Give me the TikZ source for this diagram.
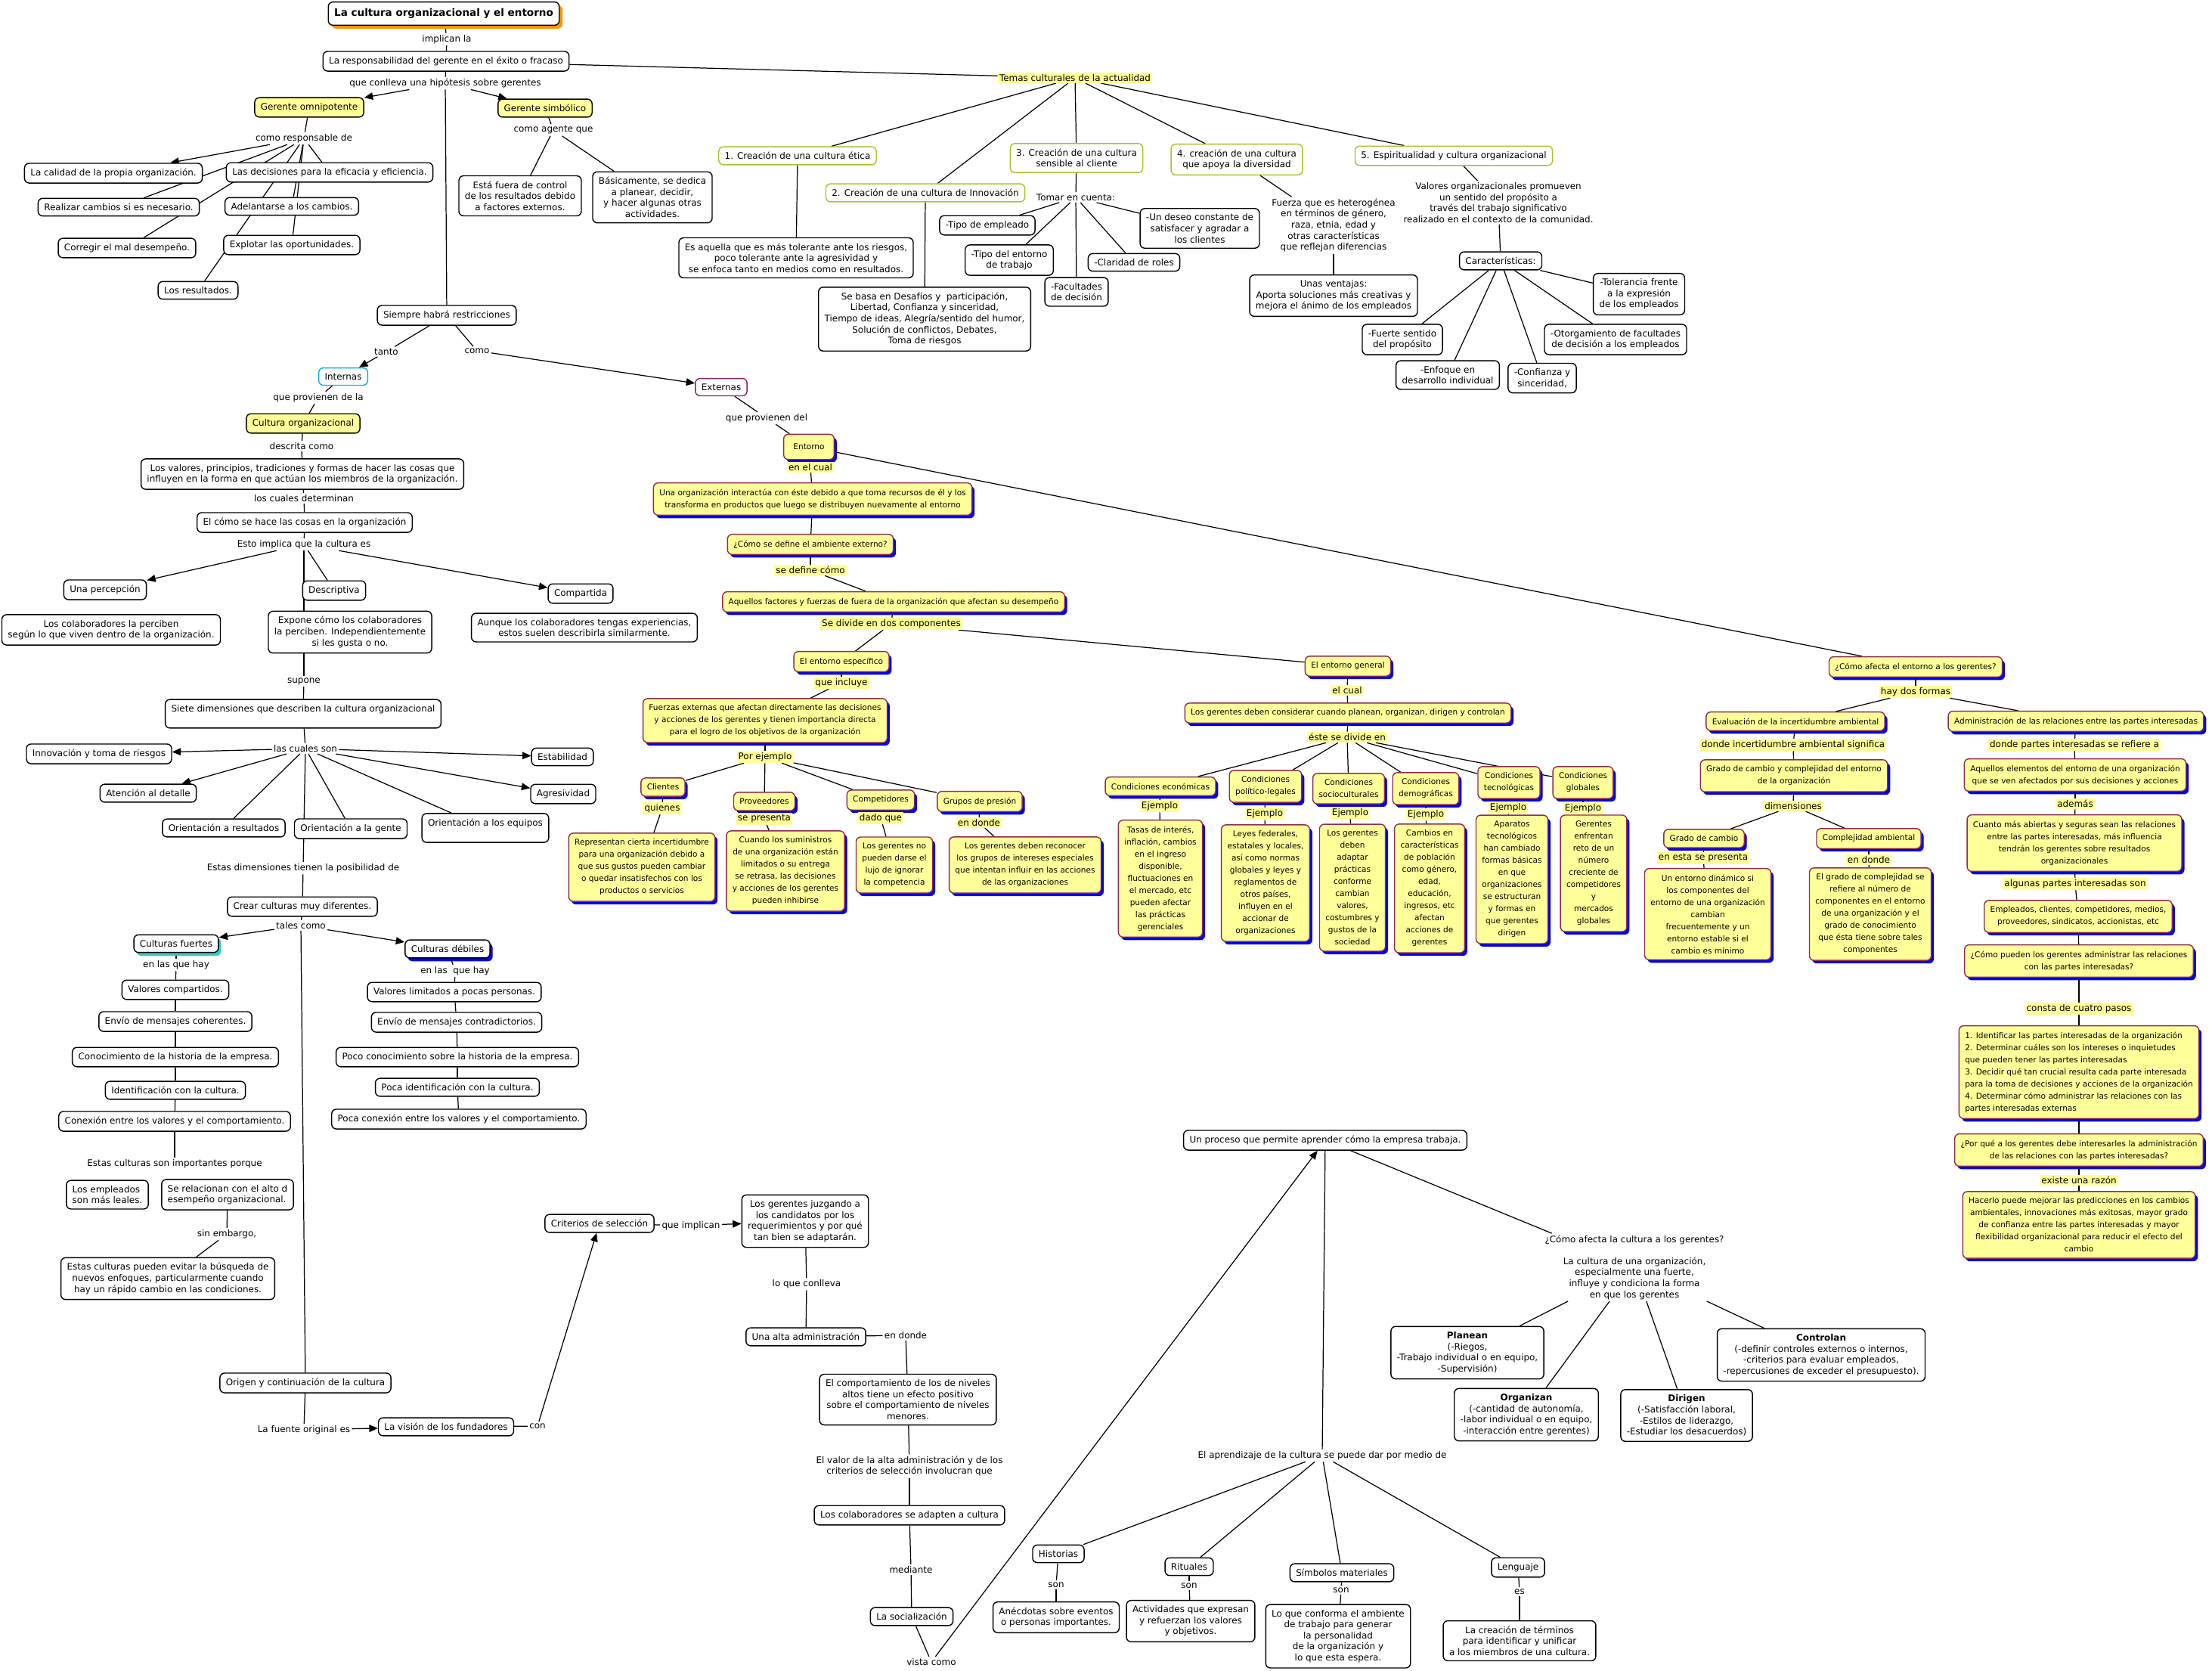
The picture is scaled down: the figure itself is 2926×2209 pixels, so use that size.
\documentclass[tikz,border=0pt]{standalone}
\usepackage{fontspec}
\setmainfont{DejaVu Sans}
\usepackage{tikz}
\usetikzlibrary{arrows.meta,shadows}
\definecolor{cmyellow}{RGB}{255,255,153}
\definecolor{cmlabel}{RGB}{255,255,150}
\definecolor{cmborder}{RGB}{140,45,80}
\definecolor{cmblue}{RGB}{0,0,235}
\definecolor{cmgreen}{RGB}{165,195,45}
\definecolor{cmcyan}{RGB}{0,180,230}
\definecolor{cmpurple}{RGB}{140,30,100}
\definecolor{cmorange}{RGB}{255,150,0}
\definecolor{cmteal}{RGB}{50,200,200}
\pgfdeclarelayer{background}
\pgfsetlayers{background,main}

\begin{document}
\begin{tikzpicture}[x=0.02cm, y=-0.02cm,
  box/.style={draw=black, line width=0.8pt, rounded corners=3.5pt, fill=white, align=center,
              inner xsep=4.5pt, inner ysep=4pt, font=\fontsize{6.8}{8.3}\selectfont},
  ybox/.style={box, fill=cmyellow, draw=cmborder, inner ysep=4.6pt, font=\fontsize{6}{9.1}\selectfont,
               drop shadow={shadow xshift=2pt, shadow yshift=-2.3pt, fill=cmblue, opacity=1}},
  ypl/.style={box, fill=cmyellow},
  gbox/.style={box, draw=cmgreen},
  titlebox/.style={box, font=\fontsize{7.7}{9.5}\selectfont\bfseries, inner ysep=5pt,
                   drop shadow={shadow xshift=2.5pt, shadow yshift=-2.5pt, fill=cmorange, opacity=1}},
  lbl/.style={inner sep=1.2pt, align=center, font=\fontsize{6.8}{8.3}\selectfont},
  ylbl/.style={lbl, fill=cmlabel},
  link/.style={line width=0.7pt},
  arr/.style={link, -{Triangle[length=6.5pt,width=5.5pt]}}]
\useasboundingbox (0,0) rectangle (2926,2209);

% gerente
\node[titlebox] (title) at (587,18) {La cultura organizacional y el entorno};
\node[lbl] (l_implican) at (591,52) {implican la};
\node[box] (resp) at (590,81) {La responsabilidad del gerente en el éxito o fracaso};
\node[lbl] (l_conlleva) at (589,110) {que conlleva una hipótesis sobre gerentes};
\node[ypl] (omni) at (409,142) {Gerente omnipotente};
\node[ypl] (simb) at (721,143) {Gerente simbólico};
\node[lbl] (l_resp) at (402,183) {como responsable de};
\node[box] (calidad) at (150,229) {La calidad de la propia organización.};
\node[box] (decis) at (436,228) {Las decisiones para la eficacia y eficiencia.};
\node[box] (realizar) at (157,274) {Realizar cambios si es necesario.};
\node[box] (adelant) at (386,273) {Adelantarse a los cambios.};
\node[box] (corregir) at (168,328) {Corregir el mal desempeño.};
\node[box] (explotar) at (386,324) {Explotar las oportunidades.};
\node[box] (result) at (262,384) {Los resultados.};
\node[lbl] (l_agente) at (732,172) {como agente que};
\node[box] (fuera) at (688,259) {Está fuera de control\\de los resultados debido\\a factores externos.};
\node[box] (basic) at (863,261) {Básicamente, se dedica\\a planear, decidir,\\y hacer algunas otras\\actividades.};
\node[box] (siempre) at (591,417) {Siempre habrá restricciones};
\node[lbl] (l_tanto) at (511,465) {tanto};
\node[lbl] (l_como) at (631,464) {como};
\node[box, draw=cmcyan] (internas) at (454,498) {Internas};
\node[box, draw=cmpurple] (externas) at (954,512) {Externas};

% cultura organizacional
\node[lbl] (l_provla) at (421,526) {que provienen de la};
\node[ypl] (culturaorg) at (401,560) {Cultura organizacional};
\node[lbl] (l_descrita) at (399,590) {descrita como};
\node[box] (valores) at (400,627) {Los valores, principios, tradiciones y formas de hacer las cosas que\\influyen en la forma en que actúan los miembros de la organización.};
\node[lbl] (l_determ) at (402,659) {los cuales determinan};
\node[box] (como) at (403,691) {El cómo se hace las cosas en la organización};
\node[lbl] (l_esto) at (402,720) {Esto implica que la cultura es};
\node[box] (percep) at (139,780) {Una percepción};
\node[box] (descrip) at (442,781) {Descriptiva};
\node[box] (compart) at (768,785) {Compartida};
\node[box] (perciben) at (147,833) {Los colaboradores la perciben\\según lo que viven dentro de la organización.};
\node[box] (expone) at (463,836) {Expone cómo los colaboradores\\la perciben. Independientemente\\si les gusta o no.};
\node[box] (aunque) at (773,830) {Aunque los colaboradores tengas experiencias,\\estos suelen describirla similarmente.};
\node[lbl] (l_supone) at (402,901) {supone};
\node[box] (siete) at (401,944) {Siete dimensiones que describen la cultura organizacional\\\mbox{}};
\node[lbl] (l_cuales) at (404,990) {las cuales son};
\node[box] (innov) at (131,997) {Innovación y toma de riesgos};
\node[box] (atencion) at (196,1049) {Atención al detalle};
\node[box] (oresult) at (296,1095) {Orientación a resultados};
\node[box] (ogente) at (464,1096) {Orientación a la gente};
\node[box] (oequipos) at (642,1095) {Orientación a los equipos\\\mbox{}};
\node[box] (agres) at (745,1050) {Agresividad};
\node[box] (estab) at (744,1001) {Estabilidad};
\node[lbl] (l_estasdim) at (401,1148) {Estas dimensiones tienen la posibilidad de};
\node[box] (crear) at (400,1199) {Crear culturas muy diferentes.};
\node[lbl] (l_tales) at (398,1224) {tales como};
\node[box, drop shadow={shadow xshift=2pt, shadow yshift=-2.5pt, fill=cmteal, opacity=1}] (fuertes) at (233,1248) {Culturas fuertes};
\node[box, drop shadow={shadow xshift=2pt, shadow yshift=-2.5pt, fill=cmblue, opacity=1}] (debiles) at (592,1255) {Culturas débiles};
\node[lbl] (l_enlasf) at (233,1276) {en las que hay};
\node[box] (f1) at (232,1309) {Valores compartidos.};
\node[box] (f2) at (232,1351) {Envío de mensajes coherentes.};
\node[box] (f3) at (232,1398) {Conocimiento de la historia de la empresa.};
\node[box] (f4) at (232,1442) {Identificación con la cultura.};
\node[box] (f5) at (231,1483) {Conexión entre los valores y el comportamiento.};
\node[lbl] (l_enlasd) at (602,1284) {en las\ \ que hay};
\node[box] (d1) at (601,1312) {Valores limitados a pocas personas.};
\node[box] (d2) at (604,1352) {Envío de mensajes contradictorios.};
\node[box] (d3) at (605,1398) {Poco conocimiento sobre la historia de la empresa.};
\node[box] (d4) at (605,1438) {Poca identificación con la cultura.};
\node[box] (d5) at (607,1480) {Poca conexión entre los valores y el comportamiento.};
\node[lbl] (l_import) at (231,1539) {Estas culturas son importantes porque};
\node[box, align=left] (leales) at (142,1580) {Los empleados\\son más leales.};
\node[box, align=left] (relac) at (301,1580) {Se relacionan con el alto d\\esempeño organizacional.};
\node[lbl] (l_sinemb) at (300,1632) {sin embargo,};
\node[box] (evitar) at (222,1691) {Estas culturas pueden evitar la búsqueda de\\nuevos enfoques, particularmente cuando\\hay un rápido cambio en las condiciones.};

% origen y socializacion
\node[box] (origen) at (404,1829) {Origen y continuación de la cultura};
\node[lbl] (l_fuente) at (402,1891) {La fuente original es};
\node[box] (vision) at (590,1887) {La visión de los fundadores};
\node[lbl] (l_con) at (711,1886) {con};
\node[box] (criterios) at (793,1618) {Criterios de selección};
\node[lbl] (l_implican2) at (914,1621) {que implican};
\node[box] (juzgando) at (1065,1615) {Los gerentes juzgando a\\los candidatos por los\\requerimientos y por qué\\tan bien se adaptarán.};
\node[lbl] (l_loque) at (1067,1698) {lo que conlleva};
\node[box] (alta) at (1066,1768) {Una alta administración};
\node[lbl] (l_endonde) at (1198,1766) {en donde};
\node[box] (comport) at (1201,1851) {El comportamiento de los de niveles\\altos tiene un efecto positivo\\sobre el comportamiento de niveles\\menores.};
\node[lbl] (l_valor) at (1203,1939) {El valor de la alta administración y de los\\criterios de selección involucran que};
\node[box] (adapten) at (1203,2004) {Los colaboradores se adapten a cultura};
\node[lbl] (l_mediante) at (1205,2076) {mediante};
\node[box] (social) at (1206,2138) {La socialización};
\node[lbl] (l_vista) at (1232,2198) {vista como};
\node[box] (proceso) at (1753,1508) {Un proceso que permite aprender cómo la empresa trabaja.};
\node[lbl] (l_aprend) at (1749,1925) {El aprendizaje de la cultura se puede dar por medio de};
\node[box] (historias) at (1400,2055) {Historias};
\node[box] (rituales) at (1573,2072) {Rituales};
\node[box] (simbolos) at (1775,2080) {Símbolos materiales};
\node[box] (lenguaje) at (2008,2073) {Lenguaje};
\node[lbl] (l_son1) at (1397,2096) {son};
\node[lbl] (l_son2) at (1573,2097) {son};
\node[lbl] (l_son3) at (1774,2103) {son};
\node[lbl] (l_es) at (2010,2105) {es};
\node[box] (anecdotas) at (1397,2139) {Anécdotas sobre eventos\\o personas importantes.};
\node[box] (activ) at (1575,2144) {Actividades que expresan\\y refuerzan los valores\\y objetivos.};
\node[box] (conforma) at (1770,2164) {Lo que conforma el ambiente\\de trabajo para generar\\la personalidad\\de la organización y\\lo que esta espera.};
\node[box] (creacion) at (2010,2170) {La creación de términos\\para identificar y unificar\\a los miembros de una cultura.};
\node[lbl] (l_afecta) at (2162,1676) {¿Cómo afecta la cultura a los gerentes?\\[8.3pt]La cultura de una organización,\\especialmente una fuerte,\\influye y condiciona la forma\\en que los gerentes};
\node[box] (planean) at (1941,1789) {\textbf{Planean}\\(-Riegos,\\-Trabajo individual o en equipo,\\-Supervisión)};
\node[box] (organizan) at (2019,1871) {\textbf{Organizan}\\(-cantidad de autonomía,\\-labor individual o en equipo,\\-interacción entre gerentes)};
\node[box] (dirigen) at (2231,1872) {\textbf{Dirigen}\\(-Satisfacción laboral,\\-Estilos de liderazgo,\\-Estudiar los desacuerdos)};
\node[box] (controlan) at (2409,1792) {\textbf{Controlan}\\(-definir controles externos o internos,\\-criterios para evaluar empleados,\\-repercusiones de exceder el presupuesto).};

% temas culturales
\node[ylbl] (l_temas) at (1422,103) {Temas culturales de la actualidad};
\node[gbox] (t1) at (1055,206) {1. Creación de una cultura ética};
\node[gbox] (t2) at (1224,255) {2. Creación de una cultura de Innovación};
\node[gbox] (t3) at (1424,209) {3. Creación de una cultura\\sensible al cliente};
\node[gbox] (t4) at (1636,211) {4. creación de una cultura\\que apoya la diversidad};
\node[gbox] (t5) at (1923,206) {5. Espiritualidad y cultura organizacional};
\node[box] (etica) at (1053,341) {Es aquella que es más tolerante ante los riesgos,\\poco tolerante ante la agresividad y\\se enfoca tanto en medios como en resultados.};
\node[box] (innova) at (1223,422) {Se basa en Desafíos y\ \ participación,\\Libertad, Confianza y sinceridad,\\Tiempo de ideas, Alegría/sentido del humor,\\Solución de conflictos, Debates,\\Toma de riesgos};
\node[lbl] (l_tomar) at (1423,261) {Tomar en cuenta:};
\node[box] (tipoemp) at (1306,298) {-Tipo de empleado};
\node[box] (tipoent) at (1335,344) {-Tipo del entorno\\de trabajo};
\node[box] (facult) at (1424,386) {-Facultades\\de decisión};
\node[box] (claridad) at (1500,347) {-Claridad de roles};
\node[box] (deseo) at (1587,302) {-Un deseo constante de\\satisfacer y agradar a\\los clientes};
\node[lbl] (l_fuerza) at (1764,298) {Fuerza que es heterogénea\\en términos de género,\\raza, etnia, edad y\\otras características\\que reflejan diferencias};
\node[box] (ventajas) at (1764,391) {Unas ventajas:\\Aporta soluciones más creativas y\\mejora el ánimo de los empleados};
\node[lbl] (l_valorg) at (1982,268) {Valores organizacionales promueven\\un sentido del propósito a\\través del trabajo significativo\\realizado en el contexto de la comunidad.};
\node[box] (caract) at (1985,345) {Características:};
\node[box] (fuerte) at (1855,449) {-Fuerte sentido\\del propósito};
\node[box] (enfoque) at (1915,496) {-Enfoque en\\desarrollo individual};
\node[box] (confianza) at (2040,500) {-Confianza y\\sinceridad,};
\node[box] (otorga) at (2137,449) {-Otorgamiento de facultades\\de decisión a los empleados};
\node[box] (toler) at (2168,389) {-Tolerancia frente\\a la expresión\\de los empleados};

% entorno
\node[lbl] (l_provdel) at (1014,553) {que provienen del};
\node[ybox, minimum width=38pt, minimum height=19pt] (entorno) at (1070,591) {Entorno};
\node[ylbl] (l_encual) at (1072,618) {en el cual};
\node[ybox] (interact) at (1075,660) {Una organización interactúa con éste debido a que toma recursos de él y los\\transforma en productos que luego se distribuyen nuevamente al entorno};
\node[ybox] (define) at (1072,720) {¿Cómo se define el ambiente externo?};
\node[ylbl] (l_define) at (1072,754) {se define cómo};
\node[ybox] (factores) at (1182,796) {Aquellos factores y fuerzas de fuera de la organización que afectan su desempeño};
\node[ylbl] (l_divide) at (1179,825) {Se divide en dos componentes};
\node[ybox] (especif) at (1113,875) {El entorno específico};
\node[ybox] (general) at (1783,881) {El entorno general};
\node[ylbl] (l_incluye) at (1113,903) {que incluye};
\node[ybox] (fuerzas) at (1012,953) {Fuerzas externas que afectan directamente las decisiones\\y acciones de los gerentes y tienen importancia directa\\para el logro de los objetivos de la organización};
\node[ylbl] (l_ejemplo) at (1012,1001) {Por ejemplo};
\node[ybox] (clientes) at (877,1041) {Clientes};
\node[ybox] (proveed) at (1011,1060) {Proveedores};
\node[ybox] (compet) at (1165,1058) {Competidores};
\node[ybox] (grupos) at (1296,1060) {Grupos de presión};
\node[ylbl] (l_quienes) at (876,1069) {quienes};
\node[ylbl] (l_sepres) at (1011,1083) {se presenta};
\node[ylbl] (l_dado) at (1165,1082) {dado que};
\node[ylbl] (l_endonde2) at (1295,1088) {en donde};
\node[ybox] (repres) at (849,1147) {Representan cierta incertidumbre\\para una organización debido a\\que sus gustos pueden cambiar\\o quedar insatisfechos con los\\productos o servicios};
\node[ybox] (sumin) at (1039,1152) {Cuando los suministros\\de una organización están\\limitados o su entrega\\se retrasa, las decisiones\\y acciones de los gerentes\\pueden inhibirse};
\node[ybox] (nopueden) at (1183,1144) {Los gerentes no\\pueden darse el\\lujo de ignorar\\la competencia};
\node[ybox] (reconocer) at (1356,1144) {Los gerentes deben reconocer\\los grupos de intereses especiales\\que intentan influir en las acciones\\de las organizaciones};
\node[ylbl] (l_elcual) at (1782,913) {el cual};
\node[ybox] (considerar) at (1783,943) {Los gerentes deben considerar cuando planean, organizan, dirigen y controlan};
\node[ylbl] (l_divide2) at (1782,975) {éste se divide en};
\node[ybox] (ceco) at (1535,1040) {Condiciones económicas};
\node[ybox] (cpol) at (1674,1040) {Condiciones\\político-legales};
\node[ybox] (csoc) at (1784,1043) {Condiciones\\socioculturales};
\node[ybox] (cdem) at (1886,1043) {Condiciones\\demográficas};
\node[ybox] (ctec) at (1996,1035) {Condiciones\\tecnológicas};
\node[ybox] (cglo) at (2094,1035) {Condiciones\\globales};
\node[ylbl] (e1) at (1534,1066) {Ejemplo};
\node[ylbl] (e2) at (1673,1076) {Ejemplo};
\node[ylbl] (e3) at (1786,1075) {Ejemplo};
\node[ylbl] (e4) at (1886,1077) {Ejemplo};
\node[ylbl] (e5) at (1995,1068) {Ejemplo};
\node[ylbl] (e6) at (2094,1069) {Ejemplo};
\node[ybox] (x1) at (1535,1162) {Tasas de interés,\\inflación, cambios\\en el ingreso\\disponible,\\fluctuaciones en\\el mercado, etc\\pueden afectar\\las prácticas\\gerenciales};
\node[ybox] (x2) at (1674,1168) {Leyes federales,\\estatales y locales,\\así como normas\\globales y leyes y\\reglamentos de\\otros países,\\influyen en el\\accionar de\\organizaciones};
\node[ybox] (x3) at (1789,1174) {Los gerentes\\deben\\adaptar\\prácticas\\conforme\\cambian\\valores,\\costumbres y\\gustos de la\\sociedad};
\node[ybox] (x4) at (1891,1175) {Cambios en\\características\\de población\\como género,\\edad,\\educación,\\ingresos, etc\\afectan\\acciones de\\gerentes};
\node[ybox] (x5) at (2000,1163) {Aparatos\\tecnológicos\\han cambiado\\formas básicas\\en que\\organizaciones\\se estructuran\\y formas en\\que gerentes\\dirigen};
\node[ybox] (x6) at (2108,1155) {Gerentes\\enfrentan\\reto de un\\número\\creciente de\\competidores\\y\\mercados\\globales};

% como afecta el entorno
\node[ybox] (afectaent) at (2534,882) {¿Cómo afecta el entorno a los gerentes?};
\node[ylbl] (l_dosformas) at (2534,915) {hay dos formas};
\node[ybox] (evalua) at (2375,954) {Evaluación de la incertidumbre ambiental};
\node[ybox] (admin) at (2746,954) {Administración de las relaciones entre las partes interesadas};
\node[ylbl] (l_incert) at (2372,985) {donde incertidumbre ambiental significa};
\node[ybox] (grado) at (2373,1026) {Grado de cambio y complejidad del entorno\\de la organización};
\node[ylbl] (l_dimens) at (2372,1066) {dimensiones};
\node[ybox] (gcambio) at (2254,1109) {Grado de cambio};
\node[ybox] (gcomplej) at (2472,1109) {Complejidad ambiental};
\node[ylbl] (l_estase) at (2253,1135) {en esta se presenta};
\node[ylbl] (l_endonde3) at (2472,1137) {en donde};
\node[ybox] (dinamico) at (2259,1209) {Un entorno dinámico si\\los componentes del\\entorno de una organización\\cambian\\frecuentemente y un\\entorno estable si el\\cambio es mínimo};
\node[ybox] (gradocomp) at (2474,1209) {El grado de complejidad se\\refiere al número de\\componentes en el entorno\\de una organización y el\\grado de conocimiento\\que ésta tiene sobre tales\\componentes};
\node[ylbl] (l_partes) at (2744,985) {donde partes interesadas se refiere a};
\node[ybox] (elementos) at (2745,1025) {Aquellos elementos del entorno de una organización\\que se ven afectados por sus decisiones y acciones};
\node[ylbl] (l_ademas) at (2745,1063) {además};
\node[ybox] (abiertas) at (2744,1115) {Cuanto más abiertas y seguras sean las relaciones\\entre las partes interesadas, más influencia\\tendrán los gerentes sobre resultados\\organizacionales};
\node[ylbl] (l_algunas) at (2745,1169) {algunas partes interesadas son};
\node[ybox] (empleados) at (2749,1212) {Empleados, clientes, competidores, medios,\\proveedores, sindicatos, accionistas, etc};
\node[ybox] (comopueden) at (2750,1271) {¿Cómo pueden los gerentes administrar las relaciones\\con las partes interesadas?};
\node[ylbl] (l_consta) at (2750,1334) {consta de cuatro pasos};
\node[ybox, align=left] (pasos) at (2750,1418) {1. Identificar las partes interesadas de la organización\\2. Determinar cuáles son los intereses o inquietudes\\que pueden tener las partes interesadas\\3. Decidir qué tan crucial resulta cada parte interesada\\para la toma de decisiones y acciones de la organización\\4. Determinar cómo administrar las relaciones con las\\partes interesadas externas};
\node[ybox] (porque) at (2750,1521) {¿Por qué a los gerentes debe interesarles la administración\\de las relaciones con las partes interesadas?};
\node[ylbl] (l_razon) at (2750,1561) {existe una razón};
\node[ybox] (hacerlo) at (2750,1620) {Hacerlo puede mejorar las predicciones en los cambios\\ambientales, innovaciones más exitosas, mayor grado\\de confianza entre las partes interesadas y mayor\\flexibilidad organizacional para reducir el efecto del\\cambio};

\begin{pgfonlayer}{background}
  \fill[white] (0,0) rectangle (2926,2209);
  % gerente
  \draw[link] (title) -- (l_implican);
  \draw[link] (l_implican) -- (resp);
  \draw[link] (resp) -- (l_conlleva);
  \draw[arr] (l_conlleva) -- (omni);
  \draw[arr] (l_conlleva) -- (simb);
  \draw[link] (l_conlleva) -- (siempre);
  \draw[link] (resp) -- (l_temas);
  \draw[link] (omni) -- (l_resp);
  \draw[arr] (l_resp) -- (calidad);
  \draw[link] (l_resp) -- (decis);
  \draw[link] (l_resp) -- (realizar);
  \draw[link] (l_resp) -- (adelant);
  \draw[link] (l_resp) -- (corregir);
  \draw[link] (l_resp) -- (explotar);
  \draw[link] (l_resp) -- (result);
  \draw[link] (simb) -- (l_agente);
  \draw[link] (l_agente) -- (fuera);
  \draw[link] (l_agente) -- (basic);
  \draw[link] (siempre) -- (l_tanto);
  \draw[arr] (l_tanto) -- (internas);
  \draw[link] (siempre) -- (l_como);
  \draw[arr] (l_como) -- (externas);
  % cultura organizacional
  \draw[link] (internas) -- (l_provla);
  \draw[link] (l_provla) -- (culturaorg);
  \draw[link] (culturaorg) -- (l_descrita);
  \draw[link] (l_descrita) -- (valores);
  \draw[link] (valores) -- (l_determ);
  \draw[link] (l_determ) -- (como);
  \draw[link] (como) -- (l_esto);
  \draw[arr] (l_esto) -- (percep);
  \draw[link] (l_esto) -- (descrip);
  \draw[arr] (l_esto) -- (compart);
  \draw[link] (l_esto.south) -- (l_esto.south |- expone.north);
  \draw[link] (l_supone.north |- expone.south) -- (l_supone);
  \draw[link] (l_supone) -- (siete);
  \draw[link] (siete) -- (l_cuales);
  \draw[arr] (l_cuales) -- (innov);
  \draw[arr] (l_cuales) -- (atencion);
  \draw[link] (l_cuales) -- (oresult);
  \draw[link] (l_cuales) -- (ogente);
  \draw[link] (l_cuales) -- (oequipos);
  \draw[arr] (l_cuales) -- (agres);
  \draw[arr] (l_cuales) -- (estab);
  \draw[link] (l_cuales) -- (l_estasdim);
  \draw[link] (l_estasdim) -- (crear);
  \draw[link] (crear) -- (l_tales);
  \draw[arr] (l_tales) -- (fuertes);
  \draw[arr] (l_tales) -- (debiles);
  \draw[link] (l_tales) -- (origen);
  \draw[link] (fuertes) -- (l_enlasf);
  \draw[link] (l_enlasf) -- (f1);
  \draw[link] (f1) -- (f2);
  \draw[link] (f2) -- (f3);
  \draw[link] (f3) -- (f4);
  \draw[link] (f4) -- (f5);
  \draw[link] (f5) -- (l_import);
  \draw[link] (debiles) -- (l_enlasd);
  \draw[link] (l_enlasd) -- (d1);
  \draw[link] (d1) -- (d2);
  \draw[link] (d2) -- (d3);
  \draw[link] (d3) -- (d4);
  \draw[link] (d4) -- (d5);
  \draw[link] (relac) -- (l_sinemb);
  \draw[link] (l_sinemb) -- (evitar);
  % origen y socializacion
  \draw[link] (origen) -- (l_fuente);
  \draw[arr] (l_fuente) -- (vision);
  \draw[link] (vision) -- (l_con);
  \draw[arr] (l_con) -- (criterios);
  \draw[link] (criterios) -- (l_implican2);
  \draw[arr] (l_implican2) -- (juzgando);
  \draw[link] (juzgando) -- (l_loque);
  \draw[link] (l_loque) -- (alta);
  \draw[link] (alta) -- (l_endonde);
  \draw[link] (l_endonde) -- (comport);
  \draw[link] (comport) -- (l_valor);
  \draw[link] (l_valor) -- (adapten);
  \draw[link] (adapten) -- (l_mediante);
  \draw[link] (l_mediante) -- (social);
  \draw[link] (social) -- (l_vista);
  \draw[arr] (l_vista) -- (proceso);
  \draw[link] (proceso) -- (l_aprend);
  \draw[link] (l_aprend) -- (historias);
  \draw[link] (l_aprend) -- (rituales);
  \draw[link] (l_aprend) -- (simbolos);
  \draw[link] (l_aprend) -- (lenguaje);
  \draw[link] (historias) -- (l_son1);
  \draw[link] (l_son1) -- (anecdotas);
  \draw[link] (rituales) -- (l_son2);
  \draw[link] (l_son2) -- (activ);
  \draw[link] (simbolos) -- (l_son3);
  \draw[link] (l_son3) -- (conforma);
  \draw[link] (lenguaje) -- (l_es);
  \draw[link] (l_es) -- (creacion);
  \draw[link] (proceso) -- (l_afecta);
  \draw[link] (l_afecta) -- (planean);
  \draw[link] (l_afecta) -- (organizan);
  \draw[link] (l_afecta) -- (dirigen);
  \draw[link] (l_afecta) -- (controlan);
  % temas culturales
  \draw[link] (l_temas) -- (t1);
  \draw[link] (l_temas) -- (t2);
  \draw[link] (l_temas) -- (t3);
  \draw[link] (l_temas) -- (t4);
  \draw[link] (l_temas) -- (t5);
  \draw[link] (t1) -- (etica);
  \draw[link] (t2) -- (innova);
  \draw[link] (t3) -- (l_tomar);
  \draw[link] (l_tomar) -- (tipoemp);
  \draw[link] (l_tomar) -- (tipoent);
  \draw[link] (l_tomar) -- (facult);
  \draw[link] (l_tomar) -- (claridad);
  \draw[link] (l_tomar) -- (deseo);
  \draw[link] (t4) -- (l_fuerza);
  \draw[link] (l_fuerza) -- (ventajas);
  \draw[link] (t5) -- (l_valorg);
  \draw[link] (l_valorg) -- (caract);
  \draw[link] (caract) -- (fuerte);
  \draw[link] (caract) -- (enfoque);
  \draw[link] (caract) -- (confianza);
  \draw[link] (caract) -- (otorga);
  \draw[link] (caract) -- (toler);
  % entorno
  \draw[link] (externas) -- (l_provdel);
  \draw[link] (l_provdel) -- (entorno);
  \draw[link] (entorno) -- (l_encual);
  \draw[link] (l_encual) -- (interact);
  \draw[link] (interact) -- (define);
  \draw[link] (define) -- (l_define);
  \draw[link] (l_define) -- (factores);
  \draw[link] (factores) -- (l_divide);
  \draw[link] (l_divide) -- (especif);
  \draw[link] (l_divide) -- (general);
  \draw[link] (entorno) -- (afectaent);
  \draw[link] (especif) -- (l_incluye);
  \draw[link] (l_incluye) -- (fuerzas);
  \draw[link] (fuerzas) -- (l_ejemplo);
  \draw[link] (l_ejemplo) -- (clientes);
  \draw[link] (l_ejemplo) -- (proveed);
  \draw[link] (l_ejemplo) -- (compet);
  \draw[link] (l_ejemplo) -- (grupos);
  \draw[link] (clientes) -- (l_quienes);
  \draw[link] (l_quienes) -- (repres);
  \draw[link] (proveed) -- (l_sepres);
  \draw[link] (l_sepres) -- (sumin);
  \draw[link] (compet) -- (l_dado);
  \draw[link] (l_dado) -- (nopueden);
  \draw[link] (grupos) -- (l_endonde2);
  \draw[link] (l_endonde2) -- (reconocer);
  \draw[link] (general) -- (l_elcual);
  \draw[link] (l_elcual) -- (considerar);
  \draw[link] (considerar) -- (l_divide2);
  \draw[link] (l_divide2) -- (ceco);
  \draw[link] (l_divide2) -- (cpol);
  \draw[link] (l_divide2) -- (csoc);
  \draw[link] (l_divide2) -- (cdem);
  \draw[link] (l_divide2) -- (ctec);
  \draw[link] (l_divide2) -- (cglo);
  \draw[link] (ceco) -- (e1);
  \draw[link] (e1) -- (x1);
  \draw[link] (cpol) -- (e2);
  \draw[link] (e2) -- (x2);
  \draw[link] (csoc) -- (e3);
  \draw[link] (e3) -- (x3);
  \draw[link] (cdem) -- (e4);
  \draw[link] (e4) -- (x4);
  \draw[link] (ctec) -- (e5);
  \draw[link] (e5) -- (x5);
  \draw[link] (cglo) -- (e6);
  \draw[link] (e6) -- (x6);
  % como afecta el entorno
  \draw[link] (afectaent) -- (l_dosformas);
  \draw[link] (l_dosformas) -- (evalua);
  \draw[link] (l_dosformas) -- (admin);
  \draw[link] (evalua) -- (l_incert);
  \draw[link] (l_incert) -- (grado);
  \draw[link] (grado) -- (l_dimens);
  \draw[link] (l_dimens) -- (gcambio);
  \draw[link] (l_dimens) -- (gcomplej);
  \draw[link] (gcambio) -- (l_estase);
  \draw[link] (l_estase) -- (dinamico);
  \draw[link] (gcomplej) -- (l_endonde3);
  \draw[link] (l_endonde3) -- (gradocomp);
  \draw[link] (admin) -- (l_partes);
  \draw[link] (l_partes) -- (elementos);
  \draw[link] (elementos) -- (l_ademas);
  \draw[link] (l_ademas) -- (abiertas);
  \draw[link] (abiertas) -- (l_algunas);
  \draw[link] (l_algunas) -- (empleados);
  \draw[link] (empleados) -- (comopueden);
  \draw[link] (comopueden) -- (l_consta);
  \draw[link] (l_consta) -- (pasos);
  \draw[link] (pasos) -- (porque);
  \draw[link] (porque) -- (l_razon);
  \draw[link] (l_razon) -- (hacerlo);
\end{pgfonlayer}
\end{tikzpicture}
\end{document}
